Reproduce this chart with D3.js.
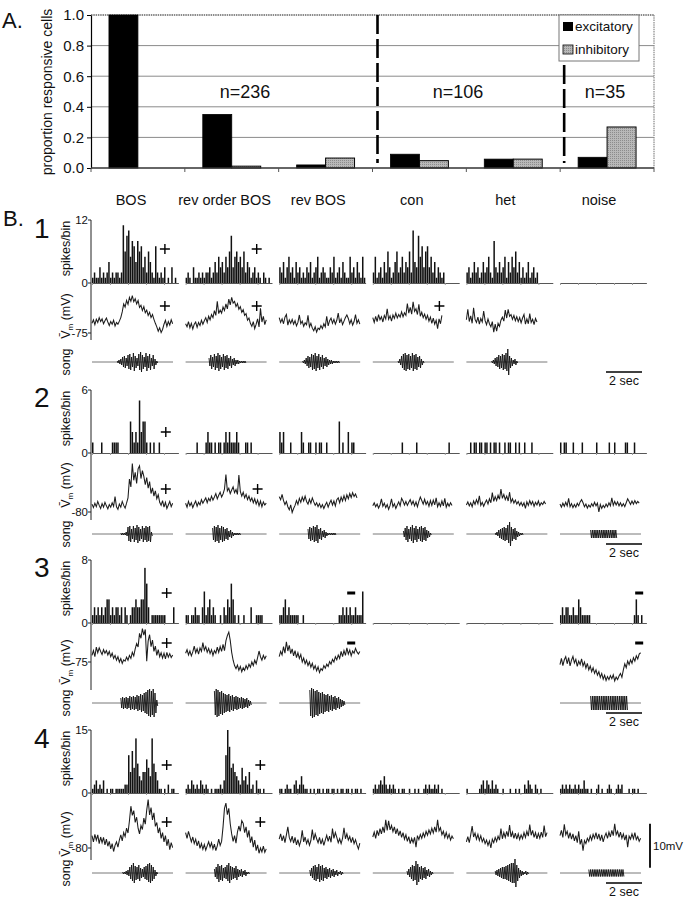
<!DOCTYPE html>
<html>
<head>
<meta charset="utf-8">
<script src="https://cdn.jsdelivr.net/npm/d3@7"></script>
<style>
  body { margin: 0; background: #fff; }
  text { font-family: "Liberation Sans", Arial, sans-serif; fill: #111; }
</style>
</head>
<body>
<div id="fig"></div>
<script>
// ---- Panel A data ----
const categories = ["BOS", "rev order BOS", "rev BOS", "con", "het", "noise"];
const excitatory = [1.0, 0.35, 0.02, 0.09, 0.058, 0.07];
const inhibitory = [0.0, 0.012, 0.065, 0.048, 0.058, 0.268];
const groupLabels = ["n=236", "n=106", "n=35"];
const yTicksA = [0, 0.2, 0.4, 0.6, 0.8, 1.0];

// ---- Panel B data: spikes/bin (0.1 s bins) ----
const spikes1 = [
  [1,2,1,1,3,1,2,1,2,4, 1,2,1,2,2,1,2,11,6,9, 10,5,8,7,4,8,6,7,3,5, 2,6,4,2,1,7,2,1,2,1, 3,0,1,0,3,0,1,0],
  [1,2,1,0,3,1,1,2,1,2, 1,2,2,3,1,2,4,2,5,3, 4,2,5,3,6,9,3,5,6,4, 5,3,6,2,4,3,1,2,3,1, 2,1,0,2,1,0,1,0],
  [3,2,4,1,3,5,2,3,1,4, 2,3,1,2,1,3,2,4,1,2, 3,5,1,2,3,2,1,1,3,2, 5,1,2,3,1,4,2,1,1,5, 2,3,1,4,2,1,5,1],
  [2,5,1,2,3,1,4,2,6,3, 1,2,4,6,2,3,5,2,4,3, 6,2,10,4,3,9,5,7,3,6, 7,3,5,2,4,1,3,2,1,2, 0,0,0,0,0,0,0,0],
  [2,3,1,2,4,2,3,1,2,4, 2,3,5,2,1,8,3,2,4,2, 3,5,1,4,2,5,3,6,2,4, 1,3,1,2,4,1,2,3,1,2, 0,0,0,0,0,0,0,0],
  []
];
const spikes2 = [
  [1,0,0,0,0,1,0,0,0,0, 0,1,1,1,1,0,0,0,0,0, 0,3,2,1,2,1,5,2,3,3, 1,0,1,0,1,0,0,1,0,0, 0,0,0,0,0,0,0,0],
  [0,0,0,0,0,0,1,0,0,0, 0,1,2,1,1,0,1,0,1,1, 0,1,2,1,2,1,1,1,2,1, 0,0,0,1,1,0,1,0,0,0, 0,0,0,0,0,0,0,0],
  [2,1,2,0,0,0,1,0,0,0, 0,0,2,1,0,0,1,1,0,0, 1,0,1,1,0,0,1,0,0,0, 0,0,0,3,0,1,0,0,2,0, 1,1,0,0,0,0,0,0],
  [0,0,0,0,0,0,0,0,0,0, 0,0,0,0,0,0,1,0,0,0, 0,0,0,0,1,0,0,0,0,0, 0,0,0,0,0,0,0,0,0,0, 0,0,1,0,0,0,0,0],
  [0,0,1,0,1,1,0,1,1,0, 1,1,0,1,0,1,1,0,1,0, 0,1,0,1,1,0,0,1,0,1, 0,0,1,0,0,0,1,0,0,0, 0,0,0,0,0,0,0,0],
  [1,0,1,1,0,0,0,1,0,0, 0,0,1,0,0,0,0,0,0,0, 1,0,0,0,0,0,0,1,0,0, 1,0,0,0,0,0,1,1,0,0, 0,1,0,0,0,0,0,0]
];
const spikes3 = [
  [1,2,1,2,1,2,1,2,3,3, 1,2,1,2,2,1,2,0,2,1, 0,1,2,2,3,2,2,3,3,7, 5,2,0,1,1,1,1,1,1,1, 1,0,0,0,0,2,0,0],
  [1,1,0,1,1,2,1,1,0,2, 4,1,2,3,1,2,1,0,0,1, 0,2,1,3,2,5,3,1,0,1, 0,0,1,0,0,0,2,0,0,1, 1,1,1,0,0,0,0,0],
  [1,1,2,3,1,2,1,1,1,1, 1,0,0,1,0,0,0,0,0,0, 0,0,0,0,0,0,0,0,0,0, 0,0,0,1,1,2,1,2,1,2, 1,1,2,1,1,1,4,0],
  [],
  [],
  [1,2,1,2,2,1,1,2,1,1, 3,2,1,1,1,1,1,0,0,0, 0,0,0,0,0,0,0,0,0,0, 0,0,0,0,0,0,0,0,0,0, 0,1,3,1,0,1,0,0]
];
const spikes4 = [
  [1,2,3,1,2,1,3,0,1,0, 1,1,0,1,1,1,1,1,2,2, 9,5,10,6,13,7,4,3,5,5, 8,6,4,13,7,5,3,1,1,0, 1,0,2,0,1,1,0,0],
  [1,2,1,3,2,1,2,1,3,2, 1,2,1,0,1,0,1,1,1,2, 1,3,9,15,11,6,7,5,4,3, 2,6,3,4,2,5,1,2,0,3, 1,1,0,1,0,0,0,0],
  [1,1,0,1,2,1,1,0,2,3, 1,2,4,2,1,1,0,1,0,1, 0,1,1,0,1,0,1,1,0,1, 1,0,1,0,1,1,0,1,1,0, 1,0,1,1,0,1,0,0],
  [1,2,1,2,3,2,4,2,1,2, 1,2,1,0,1,0,1,1,0,0, 1,0,0,1,0,1,0,0,1,2, 1,2,1,1,2,1,2,0,1,0, 0,0,0,0,0,0,0,0],
  [1,0,0,0,0,0,0,1,2,3, 1,3,2,1,3,1,2,1,0,0, 1,0,0,0,1,0,0,1,0,1, 0,0,2,1,3,2,1,0,2,1, 0,1,0,0,0,0,0,0],
  [1,2,1,2,1,2,1,1,2,1, 2,1,1,3,1,1,0,1,0,0, 1,2,0,1,0,0,1,2,1,0, 0,1,2,1,2,0,0,0,1,0, 1,1,0,1,0,0,0,0]
];

// ---- Panel B data: mean membrane potential (mV, 0.08 s samples) ----
const vm1 = [
  [-72.8,-72.0,-73.1,-71.9,-72.6,-71.5,-72.4,-71.8,-72.9,-72.2,-71.6,-72.5,-73.3,-72.4,-73.0,-72.1,-73.4,-72.6,-73.0,-72.3,-71.5,-70.2,-68.4,-69.1,-67.6,-68.5,-66.9,-67.8,-66.5,-67.9,-67.2,-68.4,-67.6,-69.2,-68.7,-69.9,-69.0,-70.4,-69.8,-71.0,-70.3,-71.5,-70.8,-71.9,-72.8,-73.6,-74.6,-73.8,-74.9,-74.2,-73.0,-72.1,-73.5,-72.4,-73.2,-72.0,-72.9],
  [-72.9,-73.6,-72.4,-73.8,-72.8,-74.1,-73.0,-72.5,-73.7,-72.6,-73.3,-72.1,-73.0,-72.2,-71.5,-72.6,-71.2,-72.0,-70.8,-71.5,-69.9,-71.0,-67.8,-70.6,-69.8,-70.5,-69.1,-69.9,-68.4,-69.5,-67.3,-68.6,-66.9,-68.2,-67.8,-69.0,-68.3,-69.6,-69.0,-70.3,-69.7,-71.0,-70.6,-72.1,-71.6,-72.8,-73.5,-72.4,-74.0,-73.0,-71.8,-73.6,-69.4,-72.5,-71.2,-73.1,-72.0],
  [-71.5,-72.6,-71.8,-72.9,-71.4,-70.8,-73.2,-72.0,-72.8,-71.9,-73.0,-72.2,-73.4,-72.6,-70.9,-72.9,-72.3,-73.5,-72.7,-73.1,-71.0,-73.6,-72.8,-73.9,-74.5,-73.6,-74.8,-73.9,-74.2,-73.3,-74.0,-72.9,-73.6,-71.2,-73.4,-72.2,-71.6,-72.8,-71.9,-73.0,-72.1,-70.5,-72.7,-71.8,-73.1,-72.3,-71.5,-70.9,-71.7,-72.9,-72.0,-73.2,-72.4,-70.8,-72.8,-72.0,-73.0],
  [-71.5,-72.6,-71.2,-72.4,-70.8,-72.0,-71.3,-72.5,-71.0,-71.8,-69.5,-71.9,-71.1,-72.3,-70.9,-71.7,-70.5,-71.6,-70.8,-71.4,-70.2,-71.3,-70.4,-71.0,-68.3,-70.5,-69.2,-70.7,-67.9,-70.1,-69.5,-70.8,-68.5,-71.2,-70.3,-71.5,-70.7,-71.9,-71.0,-72.3,-71.4,-72.8,-71.6,-73.0,-72.1,-74.0,-71.8,-72.9,-71.0],
  [-72.0,-69.6,-72.4,-71.1,-72.8,-69.3,-71.9,-72.6,-71.4,-73.0,-71.7,-72.5,-70.0,-72.2,-73.1,-71.8,-72.9,-73.6,-72.4,-74.8,-73.0,-74.6,-72.8,-73.5,-72.1,-71.4,-72.3,-69.8,-71.6,-69.6,-71.2,-70.8,-71.9,-71.0,-72.2,-71.3,-72.4,-71.5,-72.7,-71.6,-70.8,-73.0,-71.8,-72.9,-70.6,-72.6,-71.9,-73.1,-71.7,-72.5],
  null
];
const vm2 = [
  [-78.2,-79.0,-78.0,-78.8,-77.6,-78.5,-79.2,-78.1,-78.9,-77.8,-78.6,-79.3,-78.3,-78.9,-77.9,-78.7,-76.5,-78.8,-79.4,-78.2,-78.9,-77.6,-78.5,-79.1,-78.0,-76.8,-72.5,-74.3,-69.0,-72.8,-71.0,-73.5,-70.2,-69.5,-72.4,-70.6,-71.9,-73.8,-72.2,-74.6,-73.1,-75.8,-74.5,-76.4,-75.2,-77.0,-76.1,-77.8,-78.5,-77.4,-78.9,-77.8,-79.2,-78.4,-77.6,-78.8,-78.0],
  [-78.0,-78.9,-77.6,-78.6,-77.9,-79.0,-78.2,-77.5,-78.7,-77.8,-78.4,-77.2,-78.0,-77.4,-76.8,-77.9,-76.9,-77.5,-76.4,-77.3,-76.6,-75.8,-77.0,-76.2,-75.5,-76.6,-75.9,-74.8,-71.5,-75.2,-74.6,-75.8,-75.0,-74.3,-75.6,-74.9,-76.0,-71.6,-75.3,-76.4,-75.5,-76.8,-76.0,-77.2,-76.4,-77.5,-76.8,-77.9,-77.0,-78.2,-77.3,-78.6,-77.5,-78.8,-77.7,-78.4,-78.0],
  [-76.5,-77.2,-76.0,-77.4,-78.3,-77.6,-78.8,-79.5,-78.4,-80.1,-79.2,-78.5,-77.4,-78.3,-76.9,-77.8,-76.6,-77.5,-76.4,-77.6,-78.2,-77.1,-78.0,-76.8,-77.7,-78.5,-77.9,-78.8,-78.1,-79.0,-78.3,-79.2,-78.4,-77.8,-78.9,-78.0,-77.3,-78.4,-77.5,-78.6,-77.2,-76.8,-77.9,-76.6,-77.5,-76.3,-77.4,-76.1,-77.0,-75.8,-76.7,-75.6,-76.5,-75.9,-76.8],
  [-78.6,-77.9,-78.8,-78.2,-79.1,-78.4,-77.0,-78.7,-78.0,-79.0,-78.3,-79.4,-78.5,-77.0,-78.8,-78.1,-79.2,-78.4,-77.7,-78.6,-76.9,-77.5,-78.4,-77.6,-78.5,-77.8,-77.2,-78.3,-77.5,-78.6,-77.7,-78.8,-77.6,-76.6,-77.4,-78.2,-77.1,-78.3,-77.6,-78.7,-77.4,-78.5,-77.3,-78.4,-76.8,-78.8,-77.9,-78.7,-77.5,-78.6,-76.9,-78.9,-78.0,-78.7,-77.9,-78.5],
  [-78.4,-77.7,-78.6,-77.9,-78.8,-77.5,-78.3,-77.2,-78.1,-76.3,-78.5,-77.8,-78.7,-77.9,-77.3,-78.2,-77.0,-77.9,-75.6,-77.6,-76.5,-77.4,-76.2,-77.1,-74.8,-76.9,-76.0,-77.2,-76.4,-77.5,-75.5,-77.8,-77.0,-78.0,-77.3,-78.2,-77.6,-78.5,-77.8,-78.6,-77.9,-79.2,-77.7,-78.5,-77.4,-78.3,-77.6,-78.7,-77.8,-78.4,-77.5,-78.6,-77.9,-78.3,-77.6,-78.2],
  [-78.2,-78.9,-78.0,-78.7,-77.8,-78.6,-76.9,-78.8,-78.1,-79.0,-78.3,-78.9,-78.0,-78.6,-77.7,-77.2,-77.9,-78.8,-78.2,-79.1,-78.4,-78.9,-78.1,-78.7,-77.8,-78.6,-78.0,-80.0,-78.3,-79.2,-78.5,-79.0,-78.2,-78.8,-77.9,-78.6,-76.8,-78.5,-77.6,-78.4,-77.7,-78.6,-77.9,-78.7,-78.1,-78.8,-77.9,-77.0,-77.6,-78.3,-77.5,-78.2,-77.4,-78.1,-77.6,-78.0]
];
const vm3 = [
  [-73.5,-72.4,-73.8,-71.6,-72.9,-71.8,-72.6,-73.3,-72.2,-73.0,-72.4,-73.4,-72.6,-73.8,-73.0,-74.2,-73.5,-74.6,-73.8,-75.0,-74.2,-75.3,-74.5,-74.8,-73.9,-74.6,-73.5,-74.2,-72.8,-73.6,-72.0,-70.8,-71.6,-68.5,-69.6,-67.4,-68.9,-67.6,-74.8,-70.2,-68.8,-71.5,-70.0,-72.6,-71.4,-73.5,-72.2,-73.8,-72.9,-74.1,-73.0,-74.3,-72.8,-73.9,-73.1,-74.0,-73.4],
  [-73.0,-72.2,-73.4,-72.5,-73.6,-72.7,-71.4,-72.9,-72.0,-73.2,-71.8,-72.6,-70.6,-72.3,-71.5,-72.8,-71.9,-73.1,-72.2,-73.5,-72.4,-73.0,-71.6,-72.8,-71.5,-72.6,-71.0,-72.4,-70.2,-69.0,-68.2,-70.1,-72.8,-74.6,-75.8,-76.5,-75.7,-76.9,-76.0,-77.2,-76.3,-76.9,-75.8,-76.6,-75.5,-76.2,-75.0,-75.8,-74.6,-75.4,-74.0,-72.5,-73.8,-74.6,-73.5,-74.3,-73.6],
  [-73.8,-72.6,-73.4,-71.5,-73.0,-70.4,-72.5,-71.2,-73.1,-72.0,-73.6,-72.4,-74.0,-72.9,-74.2,-73.3,-75.0,-74.1,-75.4,-74.6,-75.8,-75.0,-76.2,-75.3,-76.6,-75.8,-77.0,-76.1,-77.4,-76.5,-76.9,-75.8,-76.4,-75.5,-76.0,-74.9,-75.5,-74.4,-75.0,-73.8,-74.5,-73.4,-74.2,-72.6,-73.8,-72.4,-73.5,-71.8,-73.2,-72.3,-73.6,-72.5,-73.0,-71.9,-72.7,-73.2,-72.6],
  null,
  null,
  [-75.6,-74.2,-75.8,-74.5,-73.8,-75.4,-74.0,-75.9,-74.6,-73.7,-75.2,-74.4,-76.0,-74.8,-75.6,-74.3,-75.9,-75.0,-76.4,-75.3,-76.8,-75.9,-77.2,-76.3,-77.6,-76.8,-78.0,-77.2,-78.5,-77.6,-78.9,-78.0,-79.2,-78.3,-79.0,-78.1,-78.8,-77.9,-79.3,-78.4,-79.0,-78.2,-77.6,-78.5,-76.8,-75.4,-76.3,-74.8,-75.6,-74.5,-75.3,-74.0,-74.8,-73.6,-74.3,-73.2,-72.9]
];
const vm4 = [
  [-77.2,-78.6,-76.9,-78.2,-77.0,-79.0,-77.5,-78.8,-77.6,-79.3,-78.0,-79.6,-78.5,-80.2,-79.0,-80.8,-79.4,-78.6,-79.8,-78.2,-77.0,-78.4,-76.5,-77.4,-75.5,-76.6,-73.8,-70.5,-72.6,-71.5,-74.2,-73.0,-75.5,-76.8,-74.9,-75.8,-73.2,-74.6,-71.4,-69.0,-72.5,-70.8,-73.6,-72.0,-75.1,-74.2,-76.6,-75.4,-77.8,-76.5,-78.6,-77.2,-79.5,-78.0,-80.4,-78.8,-79.9],
  [-76.5,-77.8,-76.2,-77.4,-78.6,-77.5,-79.0,-78.0,-79.5,-78.4,-80.1,-79.0,-80.3,-79.2,-80.5,-79.5,-78.6,-79.8,-78.8,-80.2,-79.1,-80.6,-79.5,-78.0,-79.4,-78.5,-75.2,-71.0,-69.8,-72.4,-71.0,-74.5,-76.8,-78.5,-77.2,-78.9,-76.4,-75.0,-76.2,-73.8,-74.4,-76.5,-75.2,-77.6,-76.0,-78.8,-77.4,-79.8,-78.2,-80.6,-79.3,-81.2,-80.0,-80.9,-79.6,-81.0,-80.2],
  [-78.0,-76.8,-78.4,-77.2,-78.8,-77.0,-75.2,-77.6,-78.5,-77.3,-78.9,-77.6,-79.3,-78.1,-79.5,-78.4,-76.0,-78.6,-77.5,-79.0,-78.1,-79.4,-78.3,-75.8,-78.2,-76.8,-77.9,-78.8,-77.6,-79.1,-78.0,-79.4,-78.2,-77.1,-78.5,-77.3,-78.7,-75.6,-77.8,-76.5,-77.6,-78.8,-77.9,-79.0,-77.8,-75.4,-77.9,-76.8,-78.2,-77.4,-78.8,-77.6,-79.0,-78.1,-79.3,-80.2,-78.9],
  [-77.5,-76.4,-77.8,-76.0,-77.2,-75.6,-76.8,-75.2,-76.5,-73.6,-76.0,-73.8,-75.9,-74.9,-76.3,-75.2,-76.8,-75.6,-77.2,-76.1,-77.6,-76.5,-78.0,-77.0,-78.5,-77.4,-79.0,-77.8,-78.8,-77.6,-79.8,-77.2,-78.1,-76.9,-77.8,-76.6,-77.5,-76.2,-77.1,-75.9,-76.8,-75.5,-76.6,-75.2,-76.4,-73.6,-76.1,-75.4,-77.0,-76.2,-77.6,-76.5,-77.8,-76.9,-78.2,-77.3,-77.9],
  [-78.6,-77.4,-78.8,-77.0,-75.0,-77.5,-76.6,-78.0,-76.9,-78.3,-77.2,-78.6,-77.8,-79.0,-78.2,-79.4,-78.4,-80.0,-78.0,-78.8,-77.6,-78.5,-77.3,-78.2,-75.6,-77.9,-76.5,-77.6,-76.2,-77.4,-74.8,-77.5,-76.4,-77.8,-76.6,-78.0,-76.8,-78.1,-77.0,-77.9,-76.5,-77.6,-76.2,-77.3,-74.7,-77.1,-76.0,-77.6,-76.5,-77.9,-76.7,-77.8,-76.4,-77.6,-74.9,-77.4,-76.5],
  [-77.2,-76.0,-77.6,-74.6,-77.0,-76.2,-77.8,-76.5,-78.0,-76.8,-78.4,-77.2,-78.8,-76.2,-79.2,-78.0,-80.6,-78.3,-79.0,-77.8,-78.5,-77.2,-78.2,-76.9,-77.8,-76.5,-78.0,-76.8,-78.3,-77.0,-78.6,-77.4,-76.6,-77.8,-76.4,-77.5,-76.0,-77.2,-74.5,-77.0,-76.2,-77.6,-76.4,-77.8,-76.8,-78.2,-77.0,-79.8,-77.3,-78.0,-76.8,-77.9,-76.5,-78.1,-77.4,-78.5,-77.8]
];

// ---- Panel B data: song amplitude envelopes (0.1 s bins, arbitrary units) ----
const song1 = [
  [0,0,0,0,0,0,0,0,0,0,0,0,0,0,1,2,3,5,6,4,7,8,5,9,6,4,8,10,7,5,9,6,8,4,7,3,1,0,0,0,0,0,0,0,0],
  [0,0,0,0,0,0,0,0,0,0,0,0,0,4,7,5,8,6,9,7,5,8,6,7,4,6,3,4,2,2,1,1,1,1,0,0,0,0,0,0,0,0,0,0,0],
  [0,0,0,0,0,0,0,0,0,0,0,0,0,1,2,4,6,5,8,7,9,6,8,5,7,4,5,3,2,2,1,1,1,1,0,0,0,0,0,0,0,0,0,0,0],
  [0,0,0,0,0,0,0,0,0,0,0,0,0,0,1,3,6,8,9,7,8,6,9,7,8,5,6,3,1,0,0,0,0,0,0,0,0,0,0,0,0,0,0,0,0],
  [0,0,0,0,0,0,0,0,0,0,0,0,0,0,1,2,4,5,7,6,8,7,9,13,6,4,2,3,1,0,0,0,0,0,0,0,0,0,0,0,0,0,0,0,0],
  null
];
const song2 = [
  [0,0,0,0,0,0,0,0,0,0,0,0,0,0,0,0,1,1,1,2,7,8,5,8,6,9,7,5,8,6,8,7,8,2,0,0,0,0,0,0,0,0,0,0,0],
  [0,0,0,0,0,0,0,0,0,0,0,0,0,0,0,6,8,7,9,6,8,7,5,6,3,4,2,1,1,1,1,0,0,0,0,0,0,0,0,0,0,0,0,0,0],
  [0,0,0,0,0,0,0,0,0,0,0,0,0,0,0,0,5,7,6,8,7,9,5,6,3,4,2,1,1,1,1,1,0,0,0,0,0,0,0,0,0,0,0,0,0],
  [0,0,0,0,0,0,0,0,0,0,0,0,0,0,0,0,0,3,6,8,5,7,9,6,8,5,7,8,6,7,4,3,1,0,0,0,0,0,0,0,0,0,0,0,0],
  [0,0,0,0,0,0,0,0,0,0,0,0,0,0,0,0,1,2,4,5,6,7,6,9,12,7,5,6,3,2,1,1,0,0,0,0,0,0,0,0,0,0,0,0,0],
  [0,0,0,0,0,0,0,0,0,0,0,0,0,0,0,0,0,4,4,4,4,4,4,4,4,4,4,4,4,4,4,4,0,0,0,0,0,0,0,0,0,0,0,0,0]
];
const song3 = [
  [0,0,0,0,0,0,0,0,0,0,0,0,0,0,0,0,5,6,5,6,5,7,6,7,6,8,7,9,8,10,11,13,14,12,14,10,3,0,0,0,0,0,0,0,0],
  [0,0,0,0,0,0,0,0,0,0,0,0,0,0,0,0,12,14,13,11,12,10,9,8,9,7,8,6,7,6,5,6,5,4,5,3,2,0,0,0,0,0,0,0,0],
  [0,0,0,0,0,0,0,0,0,0,0,0,0,0,0,0,0,13,15,14,12,13,11,10,11,9,8,9,7,8,6,7,5,6,4,3,2,0,0,0,0,0,0,0,0],
  null,
  null,
  [0,0,0,0,0,0,0,0,0,0,0,0,0,0,0,0,0,7,7,7,7,7,7,7,7,7,7,7,7,7,7,7,7,7,7,7,7,7,0,0,0,0,0,0,0]
];
const song4 = [
  [0,0,0,0,0,0,0,0,0,0,0,0,0,0,0,0,0,1,1,2,3,6,8,10,7,6,8,5,4,6,7,9,10,8,6,3,1,0,0,0,0,0,0,0,0],
  [0,0,0,0,0,0,0,0,0,0,0,0,0,0,0,0,4,6,9,7,8,5,6,8,10,7,6,5,7,4,3,4,2,3,1,1,0,0,0,0,0,0,0,0,0],
  [0,0,0,0,0,0,0,0,0,0,0,0,0,0,0,0,0,3,5,7,8,6,9,7,8,5,6,4,5,3,4,2,3,1,2,1,0,0,0,0,0,0,0,0,0],
  [0,0,0,0,0,0,0,0,0,0,0,0,0,0,0,0,0,0,0,2,4,6,8,7,12,9,6,7,5,6,3,4,2,1,0,0,0,0,0,0,0,0,0,0,0],
  [0,0,0,0,0,0,0,0,0,0,0,0,0,0,0,0,2,3,4,5,6,6,7,8,9,10,10,14,8,5,3,2,1,2,1,0,0,0,0,0,0,0,0,0,0],
  [0,0,0,0,0,0,0,0,0,0,0,0,0,0,0,0,3.5,3.5,3.5,3.5,3.5,3.5,3.5,3.5,3.5,3.5,3.5,3.5,3.5,3.5,3.5,3.5,3.5,3.5,3.5,3.5,0,0,0,0,0,0,0,0,0]
];

// response signs: [row, column, sign, time (s), where]
const responseMarks = [
  [0, 0, "+", 4.05, "both"], [0, 1, "+", 3.95, "both"], [0, 3, "+", 3.7, "vm"],
  [1, 0, "+", 4.1, "both"], [1, 1, "+", 4.0, "vm"],
  [2, 0, "+", 4.15, "both"], [2, 2, "-", 4.0, "both"], [2, 5, "-", 4.4, "both"],
  [3, 0, "+", 4.15, "both"], [3, 1, "+", 4.15, "both"]
];

const histMax = [12, 6, 8, 15];
const vmRef = [-75, -80, -75, -80];

// ---------------- drawing ----------------
const W = 685, H = 899;
const svg = d3.select("#fig").append("svg").attr("width", W).attr("height", H);
svg.append("rect").attr("width", W).attr("height", H).attr("fill", "#fff");

const defs = svg.append("defs");
const pat = defs.append("pattern").attr("id", "stip").attr("width", 2).attr("height", 2)
  .attr("patternUnits", "userSpaceOnUse");
pat.append("rect").attr("width", 2).attr("height", 2).attr("fill", "#b8b8b8");
pat.append("rect").attr("width", 1).attr("height", 1).attr("fill", "#8c8c8c");

// ===== Panel A =====
const aTop = 15, aBot = 168, aLeft = 91, aRight = 654;
const yA = d3.scaleLinear().domain([0, 1]).range([aBot, aTop]);
const xA = d3.scaleBand().domain(categories).range([aLeft, aRight]);
const xSub = d3.scaleBand().domain(["exc", "inh"]).range([0, xA.bandwidth()]).paddingOuter(0.62);

const gA = svg.append("g");
gA.selectAll(".grid").data(yTicksA.filter(d => d > 0 && d < 1)).enter().append("line")
  .attr("x1", aLeft).attr("x2", aRight).attr("y1", d => yA(d)).attr("y2", d => yA(d))
  .attr("stroke", "#8a8a8a").attr("stroke-width", 1);
gA.append("line").attr("x1", aLeft).attr("x2", aRight).attr("y1", aTop).attr("y2", aTop)
  .attr("stroke", "#666").attr("stroke-width", 1.4).attr("stroke-dasharray", "1.5,0.8");
gA.append("line").attr("x1", aRight).attr("x2", aRight).attr("y1", aTop).attr("y2", aBot)
  .attr("stroke", "#888").attr("stroke-width", 1.2).attr("stroke-dasharray", "1.5,0.8");

// bars
categories.forEach((c, i) => {
  gA.append("rect").attr("x", xA(c) + xSub("exc")).attr("width", xSub.bandwidth())
    .attr("y", yA(excitatory[i])).attr("height", yA(0) - yA(excitatory[i]))
    .attr("fill", "#000").attr("stroke", "#000").attr("stroke-width", 0.8);
  if (inhibitory[i] > 0) {
    gA.append("rect").attr("x", xA(c) + xSub("inh")).attr("width", xSub.bandwidth())
      .attr("y", yA(inhibitory[i])).attr("height", yA(0) - yA(inhibitory[i]))
      .attr("fill", "url(#stip)").attr("stroke", "#000").attr("stroke-width", 1);
  }
});

// axes
const axA = gA.append("g").attr("transform", `translate(${aLeft},0)`)
  .call(d3.axisLeft(yA).tickValues(yTicksA).tickFormat(d3.format(".1f")).tickSize(4).tickSizeOuter(0));
axA.select(".domain").attr("stroke", "#000").attr("stroke-width", 1.2);
axA.selectAll("text").attr("font-size", 15).attr("x", -7)
  .style("font-family", "'Liberation Sans', Arial, sans-serif");
gA.append("line").attr("x1", aLeft).attr("x2", aRight).attr("y1", aBot).attr("y2", aBot)
  .attr("stroke", "#333").attr("stroke-width", 1.3);
gA.selectAll(".xt").data(categories.map(c => xA(c)).concat([aRight])).enter().append("line")
  .attr("x1", d => d).attr("x2", d => d).attr("y1", aBot).attr("y2", aBot + 4)
  .attr("stroke", "#555");

// group dividers
[[xA("con") + 5, aTop], [xA("noise") + 4, 65]].forEach(([x, y0]) => {
  gA.append("line").attr("x1", x).attr("x2", x).attr("y1", y0).attr("y2", 163)
    .attr("stroke", "#000").attr("stroke-width", 2.6).attr("stroke-dasharray", "19,5");
});

// group n labels
[[245, groupLabels[0]], [458, groupLabels[1]], [605, groupLabels[2]]].forEach(([x, t]) => {
  gA.append("text").attr("x", x).attr("y", 98).attr("text-anchor", "middle")
    .attr("font-size", 18).text(t);
});

// legend
const lg = gA.append("g");
lg.append("rect").attr("x", 559).attr("y", aTop).attr("width", 80).attr("height", 46)
  .attr("fill", "#fff").attr("stroke", "#777");
lg.append("rect").attr("x", 563).attr("y", 22).attr("width", 10).attr("height", 9).attr("fill", "#000");
lg.append("rect").attr("x", 563).attr("y", 45).attr("width", 10).attr("height", 9)
  .attr("fill", "url(#stip)").attr("stroke", "#000").attr("stroke-width", 0.8);
lg.append("text").attr("x", 575).attr("y", 31).attr("font-size", 13.5).text("excitatory");
lg.append("text").attr("x", 575).attr("y", 54).attr("font-size", 13.5).text("inhibitory");

// axis title and panel label
gA.append("text").attr("transform", "translate(52,92) rotate(-90)").attr("text-anchor", "middle")
  .attr("font-size", 14).text("proportion responsive cells");
svg.append("text").attr("x", 2).attr("y", 28).attr("font-size", 22).text("A.");

// ===== Panel B =====
const xCol = d3.scaleBand().domain(categories).range([92, 646]).paddingInner(0.081);
const tx = d3.scaleLinear().domain([0, 4.8]).range([0, 86.4]);
const binDt = 0.1, vmDt = 0.08;

categories.forEach((c, i) => {
  svg.append("text").attr("x", xCol(c) + xCol.bandwidth() / 2 - 4).attr("y", 205)
    .attr("text-anchor", "middle").attr("font-size", 14.5).text(c);
});
svg.append("text").attr("x", 3).attr("y", 226).attr("font-size", 22).text("B.");

const rowLayout = [
  { top: 220, base: 283, yRef: 333, axisEnd: 340, song: 362, vLab: 316, num: 238, mHist: 249, mVm: 306 },
  { top: 390, base: 453, yRef: 512, axisEnd: 520, song: 534, vLab: 485, num: 407, mHist: 432, mVm: 489 },
  { top: 560, base: 623, yRef: 662, axisEnd: 690, song: 703, vLab: 662, num: 577, mHist: 593, mVm: 643 },
  { top: 730, base: 793, yRef: 848, axisEnd: 860, song: 873, vLab: 834, num: 748, mHist: 765, mVm: 822 }
];
const spikesAll = [spikes1, spikes2, spikes3, spikes4];
const vmAll = [vm1, vm2, vm3, vm4];
const songAll = [song1, song2, song3, song4];

rowLayout.forEach((L, r) => {
  const g = svg.append("g");
  const yH = d3.scaleLinear().domain([0, histMax[r]]).range([L.base, L.top]);
  const yV = d3.scaleLinear().domain([vmRef[r], vmRef[r] + 10]).range([L.yRef, L.yRef - 44]);
  const axX = xCol("BOS") - 1;

  // row number
  g.append("text").attr("x", 34).attr("y", L.num).attr("font-size", 28).text(String(r + 1));

  // left labels
  const lab = (y, fn) => {
    const t = g.append("text").attr("transform", `translate(70,${y}) rotate(-90)`)
      .attr("text-anchor", "middle").attr("font-size", 12.5);
    fn(t);
  };
  lab((L.top + L.base) / 2 - 3, t => t.text("spikes/bin"));
  lab(L.vLab, t => {
    t.append("tspan").text("V\u0304");
    t.append("tspan").attr("font-size", 8).attr("dy", 3).text("m");
    t.append("tspan").attr("dy", -3).text(" (mV)");
  });
  lab(L.song, t => t.text("song"));

  // left axis
  g.append("line").attr("x1", axX).attr("x2", axX).attr("y1", L.top).attr("y2", L.axisEnd)
    .attr("stroke", "#222").attr("stroke-width", 1);
  [[yH(histMax[r]), histMax[r]], [yH(0), 0], [yV(vmRef[r]), vmRef[r]]].forEach(([y, v]) => {
    g.append("line").attr("x1", axX - 3).attr("x2", axX).attr("y1", y).attr("y2", y).attr("stroke", "#222");
    g.append("text").attr("x", axX - 3).attr("y", y).attr("dy", "0.35em").attr("text-anchor", "end")
      .attr("font-size", 11.5).text(v);
  });

  categories.forEach((c, i) => {
    const x0 = xCol(c);
    // histogram baseline with second ticks
    const ax = g.append("g").attr("transform", `translate(${x0},${L.base})`)
      .call(d3.axisBottom(tx).tickValues([0, 1, 2, 3, 4]).tickSize(2).tickSizeOuter(0).tickFormat(""));
    ax.select(".domain").attr("stroke", "#444").attr("stroke-width", 0.9);
    ax.selectAll(".tick line").attr("stroke", "#999");

    const sp = spikesAll[r][i];
    g.selectAll(null).data(sp.map((v, j) => ({ v, j })).filter(d => d.v > 0)).enter().append("rect")
      .attr("x", d => x0 + tx(d.j * binDt))
      .attr("width", tx(binDt) - 0.3)
      .attr("y", d => yH(d.v))
      .attr("height", d => L.base - yH(d.v))
      .attr("fill", "#111");

    const vm = vmAll[r][i];
    if (vm) {
      const line = d3.line().x((d, k) => x0 + tx(k * vmDt)).y(d => yV(d));
      g.append("path").attr("d", line(vm)).attr("fill", "none")
        .attr("stroke", "#1c1c1c").attr("stroke-width", 1.05);
    }

    const so = songAll[r][i];
    if (so) {
      g.append("line").attr("x1", x0).attr("x2", x0 + tx(so.length * binDt))
        .attr("y1", L.song).attr("y2", L.song).attr("stroke", "#6a6a6a").attr("stroke-width", 0.9);
      const pts = [];
      so.forEach((a, j) => {
        const xx = x0 + tx(j * binDt);
        pts.push({ x: xx, y: L.song - a, a });
        pts.push({ x: xx + 0.9, y: L.song + a, a });
      });
      const zz = d3.line().defined(p => p.a > 0).x(p => p.x).y(p => p.y);
      g.append("path").attr("d", zz(pts)).attr("fill", "none")
        .attr("stroke", "#111").attr("stroke-width", 0.9);
    }
  });

  // response marks (+ excitatory, - inhibitory), drawn as strokes
  responseMarks.filter(m => m[0] === r).forEach(([, col, sign, t, where]) => {
    const x = xCol(categories[col]) + tx(t);
    const ys = where === "both" ? [L.mHist, L.mVm] : [L.mVm];
    ys.forEach(y => {
      if (sign === "+") {
        g.append("path").attr("d", `M${x - 5},${y}H${x + 5}M${x},${y - 5}V${y + 5}`)
          .attr("stroke", "#000").attr("stroke-width", 1.4).attr("fill", "none");
      } else {
        g.append("rect").attr("x", x - 4).attr("y", y - 1.5).attr("width", 8).attr("height", 3)
          .attr("fill", "#000");
      }
    });
  });

  // 2 sec scale bar
  const sx = 606;
  g.append("line").attr("x1", sx).attr("x2", sx + tx(2)).attr("y1", L.song + 10).attr("y2", L.song + 10)
    .attr("stroke", "#000").attr("stroke-width", 1.7);
  g.append("text").attr("x", sx + tx(1)).attr("y", L.song + 23).attr("text-anchor", "middle")
    .attr("font-size", 12.5).text("2 sec");

  // 10 mV bar on last row
  if (r === 3) {
    g.append("line").attr("x1", 650).attr("x2", 650)
      .attr("y1", yV(vmRef[r] + 5.5)).attr("y2", yV(vmRef[r] - 4.5))
      .attr("stroke", "#000").attr("stroke-width", 1.8);
    g.append("text").attr("x", 653).attr("y", yV(vmRef[r] + 0.5)).attr("dy", "0.35em")
      .attr("font-size", 11.5).text("10mV");
  }
});
</script>
</body>
</html>
